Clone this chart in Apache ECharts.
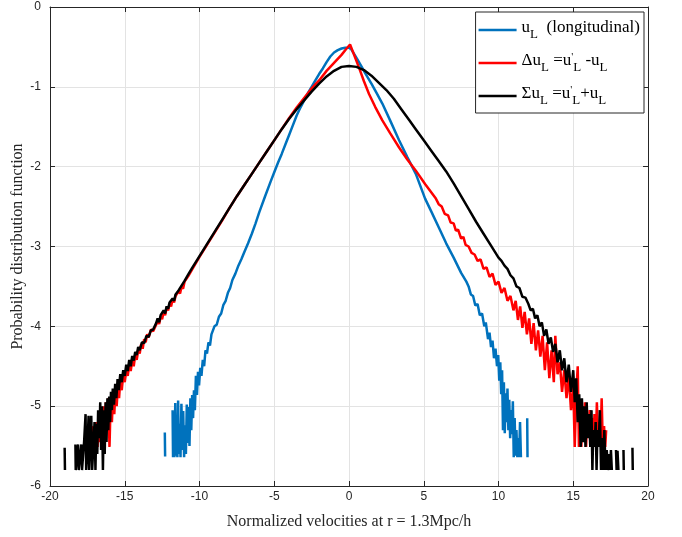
<!DOCTYPE html>
<html>
<head>
<meta charset="utf-8">
<script src="https://cdn.jsdelivr.net/npm/echarts@6/dist/echarts.min.js"></script>
<style>
html,body{margin:0;padding:0;background:#fff;}
#chart{width:682px;height:537px;}
</style>
</head>
<body>
<div id="chart"></div>
<script>
// ---- Data (x, log10 PDF); null = gap (empty bin) ----
const xLabel = 'Normalized velocities at r = 1.3Mpc/h';
const yLabel = 'Probability distribution function';
const xTicks = [-20, -15, -10, -5, 0, 5, 10, 15, 20];
const yTicks = [-6, -5, -4, -3, -2, -1, 0];
const seriesNames = ['uL', 'deltaUL', 'sigmaUL'];
const seriesColors = ['#0072BD', '#FF0000', '#000000'];

const uL = [
 [-12.32,-5.33],[-12.30,-5.63],[-12.28,null],
 [-11.80,-5.05],[-11.77,-5.64],[-11.72,-5.38],[-11.68,-5.64],[-11.62,-4.96],[-11.58,-5.62],[-11.53,-5.12],[-11.48,-5.64],[-11.43,-4.93],[-11.38,-5.60],[-11.33,-5.22],[-11.27,-5.64],[-11.21,-4.97],[-11.15,-5.55],[-11.09,-5.06],[-11.03,-5.64],[-10.97,-5.24],[-10.91,-5.60],[-10.85,-4.98],[-10.79,-5.46],[-10.73,-5.01],[-10.67,-5.50],[-10.61,-4.90],[-10.55,-5.30],[-10.49,-4.86],[-10.43,-5.15],[-10.37,-4.80],[-10.31,-5.05],[-10.24,-4.62],[-10.17,-4.86],[-10.10,-4.57],[-10.03,-4.74],[-9.95,-4.52],[-9.87,-4.62],[-9.78,-4.42],[-9.69,-4.50],[-9.60,-4.30],[-9.50,-4.34],[-9.40,-4.20],[-9.30,-4.24],[-9.20,-4.10],[-9.10,-4.12],[-9.00,-4.00],[-8.85,-3.98],[-8.70,-3.88],[-8.55,-3.84],[-8.40,-3.73],[-8.25,-3.68],[-8.10,-3.58],[-7.95,-3.52],[-7.80,-3.42],[-7.60,-3.34],[-7.40,-3.24],[-7.20,-3.16],[-7.00,-3.07],[-6.75,-2.96],[-6.50,-2.84],[-6.25,-2.71],[-6.00,-2.57],[-5.63,-2.38],
 [-5.25,-2.19],[-5.00,-2.07],[-4.75,-1.95],[-4.50,-1.84],[-4.25,-1.72],[-4.00,-1.60],[-3.75,-1.48],[-3.50,-1.36],[-3.25,-1.26],[-3.00,-1.17],[-2.75,-1.08],[-2.50,-1.00],[-2.25,-0.92],[-2.00,-0.84],[-1.75,-0.77],[-1.50,-0.69],[-1.25,-0.62],[-1.00,-0.57],[-0.75,-0.54],[-0.50,-0.52],[-0.25,-0.51],[0.00,-0.51],[0.15,-0.53],[0.35,-0.59],[0.60,-0.67],[0.85,-0.75],[1.12,-0.84],[1.50,-0.96],[1.85,-1.08],[2.23,-1.21],[2.75,-1.42],[3.35,-1.67],[3.90,-1.88],[4.47,-2.09],[5.09,-2.40],
 [5.50,-2.56],[6.00,-2.76],[6.50,-2.96],[7.00,-3.14],[7.50,-3.33],[7.85,-3.44],
 [8.00,-3.50],[8.15,-3.60],[8.30,-3.62],[8.45,-3.74],[8.60,-3.72],[8.75,-3.86],[8.90,-3.84],[9.05,-4.00],[9.15,-3.95],[9.30,-4.16],[9.40,-4.08],[9.50,-4.26],[9.60,-4.18],[9.70,-4.40],[9.80,-4.28],[9.90,-4.50],[9.98,-4.36],[10.05,-4.68],[10.12,-4.45],[10.18,-4.85],[10.24,-4.55],[10.30,-5.30],[10.36,-4.70],[10.42,-5.34],[10.48,-4.84],[10.54,-5.20],[10.60,-4.78],[10.66,-5.30],[10.72,-4.92],[10.78,-5.40],[10.84,-5.05],[10.90,-5.35],[10.96,-4.94],[11.02,-5.64],[11.08,-5.15],[11.14,-5.62],[11.20,-5.30],[11.26,-5.64],[11.32,-5.40],[11.38,-5.64],[11.44,-5.20],[11.50,-5.64],[11.52,null],
 [11.92,-5.15],[11.94,-5.64]
];

const deltaUL = [
 [-17.15,-5.25],[-17.10,-5.51],[-17.05,-5.30],[-16.98,-5.51],[-16.90,-5.20],[-16.82,-5.51],[-16.74,-5.10],[-16.66,-5.45],[-16.58,-5.05],[-16.50,-5.51],[-16.42,-5.00],[-16.34,-5.40],[-16.26,-4.95],[-16.18,-5.30],[-16.10,-4.90],[-16.02,-5.51],[-15.94,-4.92],[-15.86,-5.20],[-15.78,-4.85],[-15.70,-5.10],[-15.62,-4.80],[-15.54,-5.00],[-15.46,-4.75],[-15.38,-4.90],[-15.30,-4.68],[-15.20,-4.80],[-15.10,-4.60],[-15.00,-4.70],[-14.90,-4.55],[-14.80,-4.62],[-14.70,-4.48],[-14.60,-4.56],[-14.50,-4.42],[-14.40,-4.50],[-14.30,-4.36],[-14.20,-4.42],[-14.10,-4.30],[-14.00,-4.34],[-13.90,-4.22],[-13.80,-4.28],[-13.70,-4.16],[-13.60,-4.20],[-13.50,-4.10],[-13.40,-4.14],[-13.25,-4.04],[-13.10,-4.06],[-12.90,-3.98],[-12.80,-3.93],[-12.70,-3.97],[-12.60,-3.88],[-12.50,-3.91],[-12.40,-3.82],[-12.30,-3.86],[-12.20,-3.77],[-12.10,-3.80],[-12.00,-3.72],[-11.90,-3.75],[-11.80,-3.66],[-11.70,-3.70],[-11.60,-3.62],[-11.50,-3.64],[-11.40,-3.56],[-11.30,-3.59],[-11.20,-3.50],[-11.10,-3.53],[-11.00,-3.44],[-10.75,-3.37],[-10.50,-3.29],
 [-10.00,-3.13],[-9.50,-2.98],[-9.00,-2.83],[-8.50,-2.68],[-8.00,-2.52],[-7.50,-2.37],[-7.00,-2.23],[-6.50,-2.09],[-6.00,-1.95],[-5.50,-1.81],[-5.00,-1.67],[-4.50,-1.53],[-4.00,-1.39],[-3.50,-1.26],[-3.00,-1.14],[-2.50,-1.02],[-2.00,-0.92],[-1.50,-0.80],[-1.00,-0.70],[-0.50,-0.60],[-0.20,-0.53],[0.07,-0.47],
 [0.30,-0.58],[0.67,-0.76],[1.00,-0.93],[1.34,-1.09],[1.75,-1.25],[2.23,-1.42],[2.75,-1.58],[3.35,-1.76],[3.90,-1.91],[4.47,-2.05],[5.10,-2.22],[5.81,-2.40],[6.00,-2.47],[6.20,-2.50],[6.40,-2.59],[6.63,-2.61],[6.80,-2.70],[7.00,-2.71],[7.15,-2.80],[7.30,-2.79],[7.50,-2.90],[7.65,-2.88],[7.80,-2.98],
 [8.00,-3.00],[8.20,-3.08],[8.40,-3.10],[8.60,-3.18],[8.80,-3.16],[9.00,-3.28],[9.20,-3.26],[9.40,-3.38],[9.60,-3.34],[9.80,-3.48],[10.00,-3.44],[10.20,-3.58],[10.40,-3.52],[10.60,-3.68],[10.80,-3.62],[11.00,-3.80],[11.15,-3.68],[11.30,-3.92],[11.45,-3.75],[11.60,-4.02],[11.75,-3.82],[11.90,-4.10],[12.05,-3.90],[12.20,-4.22],[12.35,-3.96],[12.50,-4.30],[12.65,-4.05],[12.80,-4.38],[12.95,-4.12],[13.10,-4.55],[13.25,-4.20],[13.40,-4.65],[13.55,-4.30],[13.70,-4.70],[13.80,-4.12],[13.95,-4.60],[14.10,-4.45],[14.25,-4.82],[14.40,-4.55],[14.55,-4.90],[14.70,-4.62],[14.85,-5.05],[15.00,-4.75],[15.10,-5.51],[15.20,-4.85],[15.30,-4.50],[15.38,-5.51],[15.46,-4.95],[15.54,-5.51],[15.62,-5.00],[15.70,-5.40],[15.78,-4.95],[15.86,-5.51],[15.94,-5.10],[16.02,-5.30],[16.10,-5.05],[16.18,-5.51],[16.26,-5.15],[16.34,-5.45],[16.42,-5.10],[16.50,-5.51],[16.58,-4.95],[16.66,-5.40],[16.74,-5.20],[16.82,-5.51],[16.90,-4.90],[16.98,-5.51],[17.06,-5.25],[17.14,-5.51],[17.20,-5.30]
];

const sigmaUL = [
 [-19.02,-5.52],[-19.00,-5.80],[-18.98,null],
 [-18.30,-5.48],[-18.28,-5.80],[-18.20,-5.80],[-18.12,-5.48],[-18.08,-5.80],[-17.98,-5.78],[-17.90,-5.48],[-17.86,-5.80],[-17.80,-5.80],[-17.72,-5.45],[-17.62,-5.10],[-17.58,-5.80],[-17.50,-5.55],[-17.42,-5.12],[-17.38,-5.80],[-17.30,-5.35],[-17.24,-5.12],[-17.18,-5.80],[-17.10,-5.50],[-17.02,-5.20],[-16.96,-5.80],[-16.90,-5.22],[-16.84,-5.60],[-16.78,-5.05],[-16.70,-5.40],[-16.64,-4.95],[-16.58,-5.55],[-16.52,-5.00],[-16.46,-5.80],[-16.40,-5.05],[-16.34,-5.60],[-16.28,-4.95],[-16.22,-5.45],[-16.16,-4.90],[-16.10,-5.30],[-16.04,-4.88],[-15.98,-5.20],[-15.92,-4.82],[-15.86,-5.05],[-15.80,-4.78],[-15.72,-4.98],[-15.64,-4.72],[-15.56,-4.90],[-15.48,-4.66],[-15.40,-4.80],[-15.30,-4.60],[-15.20,-4.70],[-15.10,-4.55],[-15.00,-4.62],[-14.90,-4.48],[-14.80,-4.56],[-14.70,-4.42],[-14.60,-4.50],[-14.50,-4.37],[-14.40,-4.43],[-14.30,-4.32],[-14.20,-4.36],[-14.10,-4.26],[-14.00,-4.30],[-13.85,-4.20],[-13.70,-4.21],[-13.55,-4.12],[-13.40,-4.13],[-13.25,-4.05],[-13.10,-4.04],[-12.90,-3.96],[-12.80,-3.90],[-12.70,-3.95],[-12.60,-3.86],[-12.50,-3.88],[-12.40,-3.80],[-12.30,-3.84],[-12.20,-3.75],[-12.10,-3.78],[-12.00,-3.70],[-11.90,-3.72],[-11.80,-3.65],[-11.70,-3.68],[-11.60,-3.60],[-11.50,-3.62],[-11.40,-3.55],[-11.30,-3.57],[-11.20,-3.49],[-11.10,-3.51],[-11.00,-3.43],[-10.75,-3.35],[-10.50,-3.27],
 [-10.00,-3.12],[-9.50,-2.97],[-9.00,-2.82],[-8.50,-2.67],[-8.00,-2.52],[-7.50,-2.37],[-7.00,-2.23],[-6.50,-2.09],[-6.00,-1.95],[-5.50,-1.81],[-5.00,-1.67],[-4.50,-1.53],[-4.00,-1.40],[-3.50,-1.28],[-3.00,-1.17],[-2.50,-1.06],[-2.00,-0.96],[-1.50,-0.87],[-1.00,-0.80],[-0.50,-0.75],[0.00,-0.74],[0.50,-0.75],[1.00,-0.79],[1.50,-0.86],[2.00,-0.95],[2.50,-1.04],[3.00,-1.15],[3.50,-1.28],[4.00,-1.41],[4.50,-1.54],[5.00,-1.67],[5.50,-1.80],[6.00,-1.93],[6.50,-2.06],[7.00,-2.21],[7.50,-2.37],[8.00,-2.53],[8.50,-2.69],[9.00,-2.84],[9.50,-2.99],[10.00,-3.14],[10.20,-3.18],[10.40,-3.24],[10.60,-3.28],[10.80,-3.36],[11.00,-3.40],[11.20,-3.50],[11.40,-3.52],[11.60,-3.63],[11.80,-3.64],
 [12.00,-3.72],[12.15,-3.80],[12.30,-3.78],[12.45,-3.90],[12.60,-3.86],[12.75,-4.00],[12.90,-3.95],[13.05,-4.12],[13.20,-4.04],[13.35,-4.22],[13.50,-4.14],[13.65,-4.32],[13.80,-4.22],[13.95,-4.45],[14.10,-4.30],[14.25,-4.55],[14.40,-4.40],[14.55,-4.70],[14.70,-4.48],[14.85,-4.82],[15.00,-4.55],[15.10,-4.95],[15.20,-4.65],[15.30,-5.20],[15.40,-4.85],[15.50,-5.51],[15.58,-4.90],[15.66,-5.45],[15.74,-5.00],[15.82,-5.51],[15.90,-4.95],[15.98,-5.40],[16.06,-5.10],[16.14,-5.51],[16.22,-5.05],[16.28,-5.80],[16.34,-5.30],[16.42,-5.51],[16.50,-5.20],[16.56,-5.80],[16.62,-5.30],[16.70,-5.51],[16.78,-5.05],[16.86,-5.80],[16.92,-5.40],[17.00,-5.80],[17.08,-5.30],[17.16,-5.80],[17.24,-5.55],[17.32,-5.80],[17.40,-5.60],[17.46,-5.80],[17.52,-5.55],[17.58,-5.80],[17.62,null],
 [17.86,-5.55],[17.90,-5.80],[17.96,-5.56],[18.02,-5.80],[18.06,null],
 [18.36,-5.55],[18.38,-5.80],[18.40,null],
 [18.96,-5.52],[18.98,-5.80]
];

const legendText = {
  uL: '{m|u}{s|L}{m|  (longitudinal)}',
  deltaUL: '{m|\u0394u}{s|L}{m| =u}{p|\'}{s|L}{m| -u}{s|L}',
  sigmaUL: '{m|\u03A3u}{s|L}{m| =u}{p|\'}{s|L}{m|+u}{s|L}'
};

// ---- Chart ----
const toSeriesData = arr => arr.map(p => p[1] === null ? [p[0], '-'] : [p[0], p[1]]);
const allData = [uL, deltaUL, sigmaUL];

const axisColor = '#262626';
const gridColor = '#e3e3e3';
const serif = 'Liberation Serif, Times New Roman, serif';
const tickFont = {fontFamily: 'Liberation Sans, Arial, sans-serif', fontSize: 12, color: axisColor};

const chart = echarts.init(document.getElementById('chart'), null, {renderer: 'canvas'});
chart.setOption({
  animation: false,
  backgroundColor: '#ffffff',
  grid: {left: 50, right: 34, top: 7, bottom: 51, containLabel: false},
  xAxis: [{
    type: 'value', min: xTicks[0], max: xTicks[xTicks.length-1], interval: 5,
    position: 'bottom',
    name: xLabel, nameLocation: 'middle', nameGap: 28, nameMoveOverlap: false,
    nameTextStyle: {fontFamily: serif, fontSize: 16, color: axisColor},
    axisLine: {show: true, onZero: false, lineStyle: {color: axisColor, width: 1}},
    axisTick: {show: true, inside: true, length: 5, lineStyle: {color: axisColor}},
    axisLabel: Object.assign({margin: 5}, tickFont),
    splitLine: {show: true, lineStyle: {color: gridColor, width: 1}}
  }, {
    type: 'value', min: xTicks[0], max: xTicks[xTicks.length-1], interval: 5,
    position: 'top',
    axisLine: {show: true, onZero: false, lineStyle: {color: axisColor, width: 1}},
    axisTick: {show: true, inside: true, length: 5, lineStyle: {color: axisColor}},
    axisLabel: {show: false}, splitLine: {show: false}
  }],
  yAxis: [{
    type: 'value', min: yTicks[0], max: yTicks[yTicks.length-1], interval: 1,
    position: 'left',
    name: yLabel, nameLocation: 'middle', nameGap: 24, nameRotate: 90, nameMoveOverlap: false,
    nameTextStyle: {fontFamily: serif, fontSize: 16, color: axisColor},
    axisLine: {show: true, onZero: false, lineStyle: {color: axisColor, width: 1}},
    axisTick: {show: true, inside: true, length: 5, lineStyle: {color: axisColor}},
    axisLabel: Object.assign({margin: 9}, tickFont),
    splitLine: {show: true, lineStyle: {color: gridColor, width: 1}}
  }, {
    type: 'value', min: yTicks[0], max: yTicks[yTicks.length-1], interval: 1,
    position: 'right',
    axisLine: {show: true, onZero: false, lineStyle: {color: axisColor, width: 1}},
    axisTick: {show: true, inside: true, length: 5, lineStyle: {color: axisColor}},
    axisLabel: {show: false}, splitLine: {show: false}
  }],
  legend: {
    show: true, orient: 'vertical', right: 38, top: 12,
    padding: [6, 4, 6, 3], itemGap: 10, itemWidth: 38, itemHeight: 2.5,
    icon: 'rect',
    backgroundColor: '#ffffff', borderColor: axisColor, borderWidth: 1, borderRadius: 0,
    data: seriesNames,
    formatter: name => legendText[name],
    textStyle: {
      fontFamily: serif, fontSize: 17, color: '#000', padding: [0, 0, 0, 0],
      rich: {
        m: {fontFamily: serif, fontSize: 17, color: '#000', lineHeight: 22, verticalAlign: 'top'},
        s: {fontFamily: serif, fontSize: 13, color: '#000', lineHeight: 22, verticalAlign: 'bottom', padding: [10, 0, 0, 0]},
        p: {fontFamily: serif, fontSize: 11, color: '#000', lineHeight: 22, verticalAlign: 'top'}
      }
    }
  },
  series: seriesNames.map((nm, i) => ({
    name: nm, type: 'line', xAxisIndex: 0, yAxisIndex: 0,
    data: toSeriesData(allData[i]),
    showSymbol: false, symbol: 'none', connectNulls: false, smooth: false,
    lineStyle: {color: seriesColors[i], width: 2.5},
    itemStyle: {color: seriesColors[i]},
    z: 2 + i
  }))
});
</script>
</body>
</html>
